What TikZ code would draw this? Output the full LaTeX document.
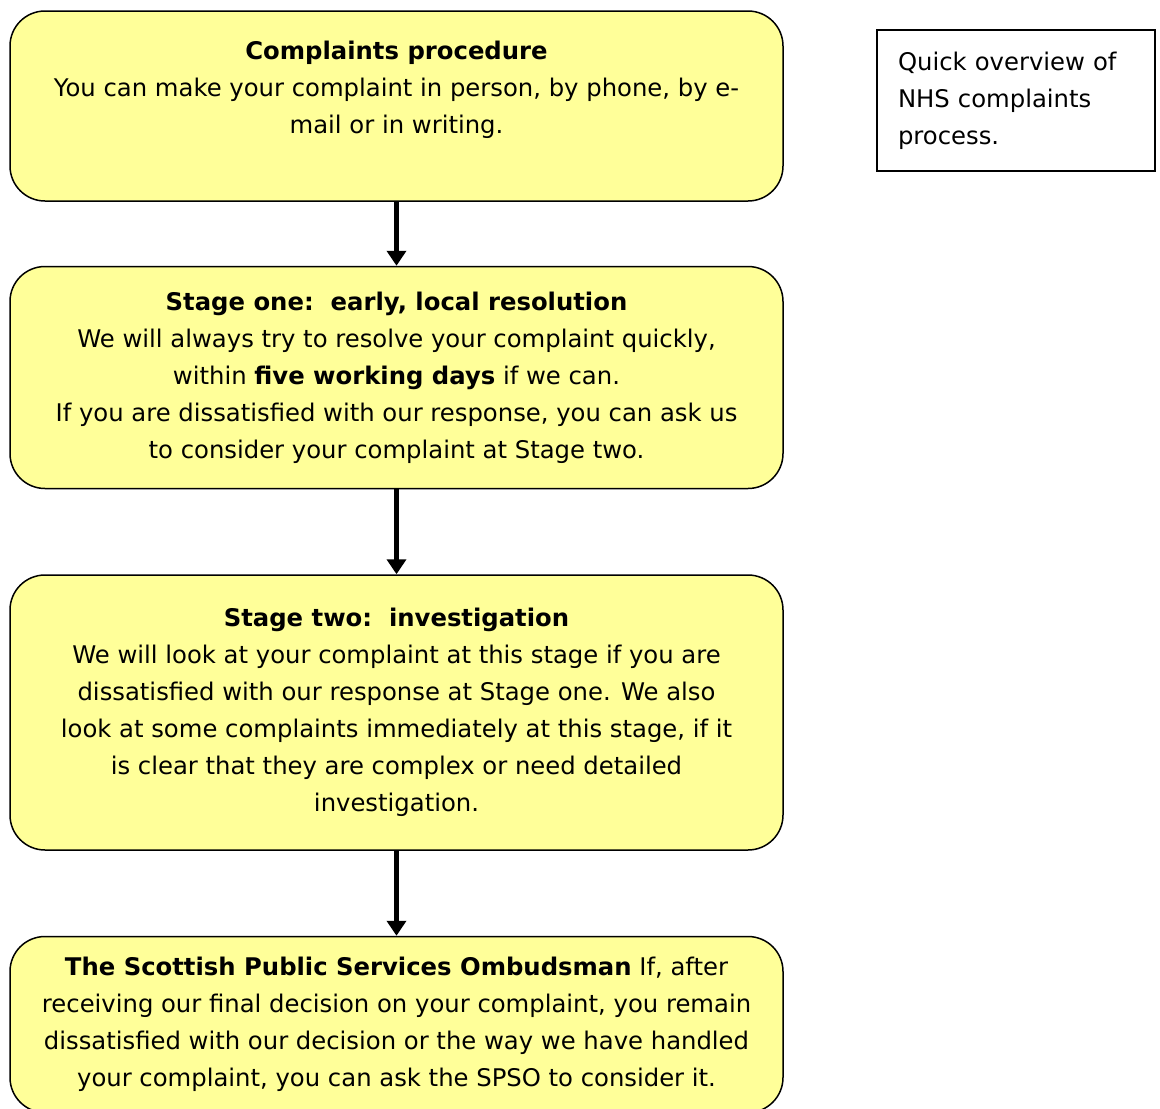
\documentclass[tikz,border=0pt]{standalone}
\usepackage{fontspec}
\setmainfont{DejaVu Sans}
\usetikzlibrary{positioning,arrows.meta}
\definecolor{boxyellow}{HTML}{FFFF99}
\tikzset{node distance=85pt, % gap between two stages
  stagebox/.style={ % the yellow stage boxes
    draw, line width=1.5pt,
    fill=boxyellow,
    rounded corners=35pt,
    minimum width=773pt,
    align=center,
    font=\fontsize{24.3pt}{37pt}\selectfont},
  notebox/.style={
    draw, line width=1.5pt,
    minimum width=278pt, minimum height=141pt,
    inner xsep=21pt,
    text width=236pt, align=left,
    font=\fontsize{24.3pt}{37pt}\selectfont},
  flowarrow/.style={
    draw,
    -{Triangle[width=19pt,length=15pt]},
    line width=4.5pt}}

\begin{document}
\begin{tikzpicture}[x=1pt,y=-1pt]
    \useasboundingbox (0,0) rectangle (1160,1109);
    \node[stagebox, minimum height=190pt] (proc) at (396.5,106) {\textbf{Complaints procedure}\\
      You can make your complaint in person, by phone, by e-\\
      mail or in writing.\\ \mbox{}};
    \node[stagebox, minimum height=222pt, below=64pt of proc] (one) {\textbf{Stage one:\ \ early, local resolution}\\
      We will always try to resolve your complaint quickly,\\
      within \textbf{five working days} if we can.\\
      If you are dissatisfied with our response, you can ask us\\
      to consider your complaint at Stage two.};
    \node[stagebox, minimum height=275pt, below=of one] (two) {\textbf{Stage two:\ \ investigation}\\
      We will look at your complaint at this stage if you are\\
      dissatisfied with our response at Stage one. We also\\
      look at some complaints immediately at this stage, if it\\
      is clear that they are complex or need detailed\\
      investigation.};
    \node[stagebox, minimum height=176pt, below=of two] (spso) {\textbf{The Scottish Public Services Ombudsman} If, after\\
      receiving our final decision on your complaint, you remain\\
      dissatisfied with our decision or the way we have handled\\
      your complaint, you can ask the SPSO to consider it.};
    \node[notebox] (note) at (1016,100.5) {Quick overview of\\ NHS complaints\\ process.};
    \draw[flowarrow] (proc) -- (one);
    \draw[flowarrow] (one) -- (two);
    \draw[flowarrow] (two) -- (spso);
  \end{tikzpicture}
\end{document}
